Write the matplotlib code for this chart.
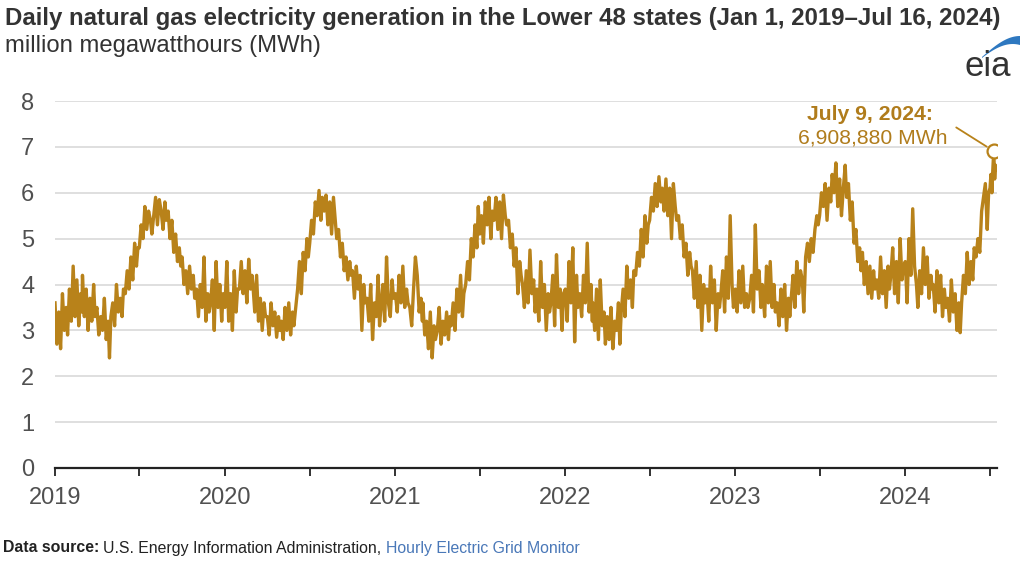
import matplotlib
matplotlib.use("Agg")
import matplotlib.pyplot as plt
from matplotlib.patches import Polygon
import pandas as pd
import numpy as np

plt.rcParams['font.family'] = ['Liberation Sans', 'DejaVu Sans']

# ---- data (million MWh), 8 readings per month ----
years = [2019, 2020, 2021, 2022, 2023, 2024]
month_days = [1, 5, 9, 13, 17, 21, 25, 28]

gen_2019 = [
    [3.6, 2.7, 3.4, 2.6, 3.8, 3.0, 3.5, 2.9],
    [3.9, 3.2, 4.4, 3.3, 4.1, 3.1, 3.8, 3.4],
    [4.2, 3.3, 3.9, 3.0, 3.7, 3.2, 4.0, 3.3],
    [3.5, 2.9, 3.3, 3.0, 3.7, 2.8, 3.2, 2.4],
    [3.3, 3.6, 3.1, 4.0, 3.4, 3.7, 3.3, 3.9],
    [3.8, 4.3, 3.9, 4.6, 4.1, 4.9, 4.4, 4.8],
    [4.8, 5.3, 5.0, 5.7, 5.2, 5.6, 5.4, 5.1],
    [5.5, 5.9, 5.3, 5.85, 5.6, 5.2, 5.8, 5.4],
    [5.6, 5.0, 5.4, 4.7, 5.1, 4.5, 4.8, 4.4],
    [4.6, 4.0, 4.3, 3.8, 4.4, 3.9, 4.2, 3.7],
    [3.9, 3.3, 4.0, 3.5, 4.6, 3.2, 3.8, 3.4],
    [3.6, 4.1, 3.0, 4.5, 3.5, 4.0, 3.2, 3.8],
]
gen_2020 = [
    [3.5, 4.5, 3.2, 3.8, 3.0, 4.3, 3.4, 3.9],
    [3.9, 4.5, 3.8, 4.3, 3.6, 4.55, 3.9, 4.2],
    [4.0, 3.4, 4.2, 3.2, 3.7, 3.0, 3.6, 3.3],
    [3.3, 2.9, 3.6, 3.1, 3.4, 2.85, 3.3, 3.0],
    [3.2, 2.8, 3.5, 3.0, 3.6, 2.9, 3.4, 3.1],
    [3.5, 3.9, 4.5, 3.8, 4.7, 4.3, 5.0, 4.6],
    [4.9, 5.4, 5.1, 5.8, 5.5, 6.05, 5.4, 5.9],
    [5.6, 5.95, 5.3, 5.8, 5.1, 5.9, 5.4, 5.0],
    [5.2, 4.6, 4.9, 4.3, 4.6, 4.1, 4.5, 4.2],
    [4.3, 3.7, 4.4, 3.9, 4.2, 3.0, 4.0, 3.6],
    [3.7, 3.2, 4.0, 2.8, 3.6, 3.3, 4.2, 3.1],
    [3.5, 4.0, 3.2, 4.6, 3.6, 3.3, 4.1, 3.7],
]
gen_2021 = [
    [3.8, 3.4, 4.2, 3.6, 4.4, 3.5, 3.9, 3.6],
    [3.5, 3.1, 3.9, 4.6, 4.2, 3.4, 3.7, 3.2],
    [3.6, 2.9, 3.2, 2.6, 3.4, 2.4, 3.1, 2.8],
    [3.0, 3.5, 2.7, 3.2, 2.9, 3.4, 2.8, 3.3],
    [3.1, 3.6, 3.0, 3.9, 3.4, 4.2, 3.3, 3.8],
    [4.0, 4.5, 4.1, 5.0, 4.6, 5.3, 4.8, 5.7],
    [5.1, 5.5, 4.9, 5.8, 5.3, 5.9, 5.0, 5.6],
    [5.4, 5.9, 5.2, 5.8, 5.0, 5.95, 5.5, 5.3],
    [5.4, 4.8, 5.1, 4.4, 4.8, 3.8, 4.5, 4.2],
    [4.0, 3.5, 4.3, 3.6, 4.75, 3.8, 4.1, 3.4],
    [3.9, 3.2, 4.5, 3.5, 4.0, 3.0, 3.8, 3.4],
    [3.6, 4.2, 3.1, 4.65, 3.5, 3.9, 3.0, 3.8],
]
gen_2022 = [
    [3.9, 3.2, 4.5, 3.6, 4.8, 2.75, 4.2, 3.5],
    [3.8, 3.3, 4.2, 3.6, 4.9, 3.4, 4.0, 3.2],
    [3.6, 3.0, 3.9, 2.8, 4.1, 3.1, 3.4, 2.7],
    [3.3, 2.8, 3.5, 2.6, 3.2, 3.0, 3.6, 2.7],
    [3.4, 3.9, 3.3, 4.4, 3.7, 4.1, 3.5, 4.3],
    [4.2, 4.7, 4.4, 5.2, 4.6, 5.5, 4.9, 5.3],
    [5.4, 5.9, 5.6, 6.2, 5.7, 6.35, 5.8, 6.1],
    [5.6, 6.3, 5.5, 6.1, 5.0, 6.2, 5.7, 5.4],
    [5.5, 5.0, 5.3, 4.6, 4.9, 4.2, 4.7, 4.4],
    [4.3, 3.7, 4.5, 3.5, 4.2, 3.0, 4.0, 3.6],
    [3.9, 3.2, 4.4, 3.6, 4.1, 3.0, 3.8, 3.5],
    [3.8, 4.3, 3.4, 4.6, 3.7, 5.5, 4.0, 3.5],
]
gen_2023 = [
    [3.9, 3.4, 4.3, 3.6, 4.4, 3.5, 3.8, 3.5],
    [3.7, 4.2, 3.4, 5.3, 3.9, 4.3, 3.5, 4.0],
    [3.9, 3.3, 4.4, 3.6, 4.5, 3.5, 4.0, 3.4],
    [3.6, 3.1, 3.9, 3.3, 4.0, 3.0, 3.7, 3.3],
    [3.7, 4.2, 3.5, 4.5, 3.8, 4.3, 4.1, 3.4],
    [4.6, 4.9, 4.5, 5.0, 4.7, 5.2, 5.5, 5.3],
    [5.5, 6.0, 5.7, 6.2, 5.4, 6.1, 5.8, 6.4],
    [6.0, 6.65, 5.7, 6.3, 5.5, 6.1, 6.6, 5.9],
    [6.2, 5.4, 5.8, 4.9, 5.2, 4.5, 4.8, 4.3],
    [4.7, 4.0, 4.5, 3.8, 4.4, 3.7, 4.3, 3.9],
    [4.1, 3.7, 4.6, 3.8, 4.3, 3.5, 4.4, 3.9],
    [4.2, 4.8, 3.8, 4.5, 3.6, 5.0, 4.1, 4.4],
]
gen_2024 = [
    [4.5, 3.6, 5.0, 4.2, 5.65, 4.4, 4.0, 3.5],
    [4.3, 3.8, 4.8, 4.0, 4.6, 3.7, 4.2, 3.9],
    [4.0, 3.4, 4.3, 3.6, 4.2, 3.3, 3.9, 3.5],
    [3.7, 3.2, 4.1, 3.4, 3.8, 3.0, 3.6, 2.95],
    [3.6, 4.2, 3.8, 4.7, 4.0, 4.5, 4.1, 4.8],
    [4.6, 5.0, 4.7, 5.6, 5.9, 6.2, 5.2, 6.0],
]
jul2024_days = [1, 3, 5, 7, 9, 11, 13, 16]
jul2024_vals = [6.1, 6.4, 6.0, 6.5, 6.90888, 6.3, 6.6, 6.5]

peak_date = "2024-07-09"
peak_value = 6.90888
peak_label_1 = "July 9, 2024:"
peak_label_2 = "6,908,880 MWh"

y_ticks = [0, 1, 2, 3, 4, 5, 6, 7, 8]
x_tick_labels = ["2019", "2020", "2021", "2022", "2023", "2024"]

title = "Daily natural gas electricity generation in the Lower 48 states (Jan 1, 2019\u2013Jul 16, 2024)"
subtitle = "million megawatthours (MWh)"

# ---- assemble series ----
dates, vals = [], []
for yr, block in zip(years, [gen_2019, gen_2020, gen_2021, gen_2022, gen_2023, gen_2024]):
    for m, row in enumerate(block, start=1):
        for d, v in zip(month_days, row):
            dates.append(pd.Timestamp(yr, m, d))
            vals.append(v)
for d, v in zip(jul2024_days, jul2024_vals):
    dates.append(pd.Timestamp(2024, 7, d))
    vals.append(v)
series = pd.Series(vals, index=pd.DatetimeIndex(dates))

LINE = "#B8821A"
TEXT_GOLD = "#B07C1C"
GRID = "#D9D9D9"
TICK_TXT = "#505050"

W, H = 1024, 568
fig = plt.figure(figsize=(W / 100, H / 100), dpi=100)
fig.patch.set_facecolor("white")

ax_l, ax_r, ax_b, ax_t = 55, 997, 468, 101
ax = fig.add_axes([ax_l / W, 1 - ax_b / H, (ax_r - ax_l) / W, (ax_b - ax_t) / H])

ax.plot(series.index, series.values, color=LINE, lw=2.4, solid_joinstyle="round", zorder=3)

pk = pd.Timestamp(peak_date)
ax.plot([pk], [peak_value], marker="o", ms=10, mfc="white", mec=LINE, mew=1.6, zorder=5)

ax.set_ylim(0, 8)
ax.set_xlim(pd.Timestamp("2019-01-01"), pd.Timestamp("2024-07-16"))
ax.set_yticks(y_ticks)
ax.set_yticklabels([str(t) for t in y_ticks])
ax.yaxis.grid(True, color=GRID, lw=1.2, zorder=0)
ax.set_axisbelow(True)

major = [pd.Timestamp(int(y), 1, 1) for y in x_tick_labels]
ax.set_xticks(major)
ax.set_xticklabels(x_tick_labels)
minor = [pd.Timestamp(int(y), 7, 1) for y in x_tick_labels]
ax.set_xticks(minor, minor=True)

for s in ["top", "right", "left"]:
    ax.spines[s].set_visible(False)
ax.spines["bottom"].set_color("#222222")
ax.spines["bottom"].set_linewidth(1.6)
ax.tick_params(axis="y", length=0, pad=15, labelsize=17, labelcolor=TICK_TXT)
ax.tick_params(axis="x", which="both", direction="out", length=6, width=1.3, color="#222222",
               pad=8, labelsize=17, labelcolor=TICK_TXT)

# annotation
ax.annotate("", xy=(pk, peak_value), xytext=(-27, 17), textcoords="offset points",
            arrowprops=dict(arrowstyle="-", color=LINE, lw=1.3, shrinkA=0, shrinkB=6))
fig.text(870 / W, 1 - 115 / H, peak_label_1, ha="center", va="center", fontsize=15.2,
         fontweight="bold", color=TEXT_GOLD)
fig.text(948 / W, 1 - 138 / H, peak_label_2, ha="right", va="center", fontsize=15.2,
         color=TEXT_GOLD)

# title & subtitle
fig.text(5 / W, 1 - 18 / H, title, ha="left", va="center", fontsize=17.3, fontweight="bold",
         color="#333333")
fig.text(5 / W, 1 - 46 / H, subtitle, ha="left", va="center", fontsize=17.2, color="#333333")

# source
src_y = 1 - 548 / H
t1 = fig.text(3 / W, src_y, "Data source:", ha="left", va="center", fontsize=11.4,
              fontweight="bold", color="#222222")
fig.canvas.draw()
r = fig.canvas.get_renderer()
bb = t1.get_window_extent(r)
t2 = fig.text(bb.x1 / W + 4 / W, src_y, "U.S. Energy Information Administration, ", ha="left",
              va="center", fontsize=11.4, color="#222222")
bb2 = t2.get_window_extent(r)
fig.text(bb2.x1 / W, src_y, "Hourly Electric Grid Monitor", ha="left", va="center",
         fontsize=11.4, color="#4A78B8")

# eia logo (pixel coordinates of the figure)
lax = fig.add_axes([0, 0, 1, 1], facecolor="none")
lax.set_xlim(0, W)
lax.set_ylim(H, 0)
lax.axis("off")
lax.text(988, 67, "eia", ha="center", va="center", fontsize=25, color="#333333")
th = np.linspace(0, 1, 40)
top_x = 982 + 38 * th
top_y = 57 - 21 * np.sin(th * np.pi / 2)
bot_y = top_y + 1.0 + 8.0 * th ** 1.3
lax.add_patch(Polygon(np.column_stack([np.r_[top_x, top_x[::-1]], np.r_[top_y, bot_y[::-1]]]),
                      closed=True, color="#2E78C0", lw=0))

fig.savefig("out.png", dpi=100, facecolor="white")
